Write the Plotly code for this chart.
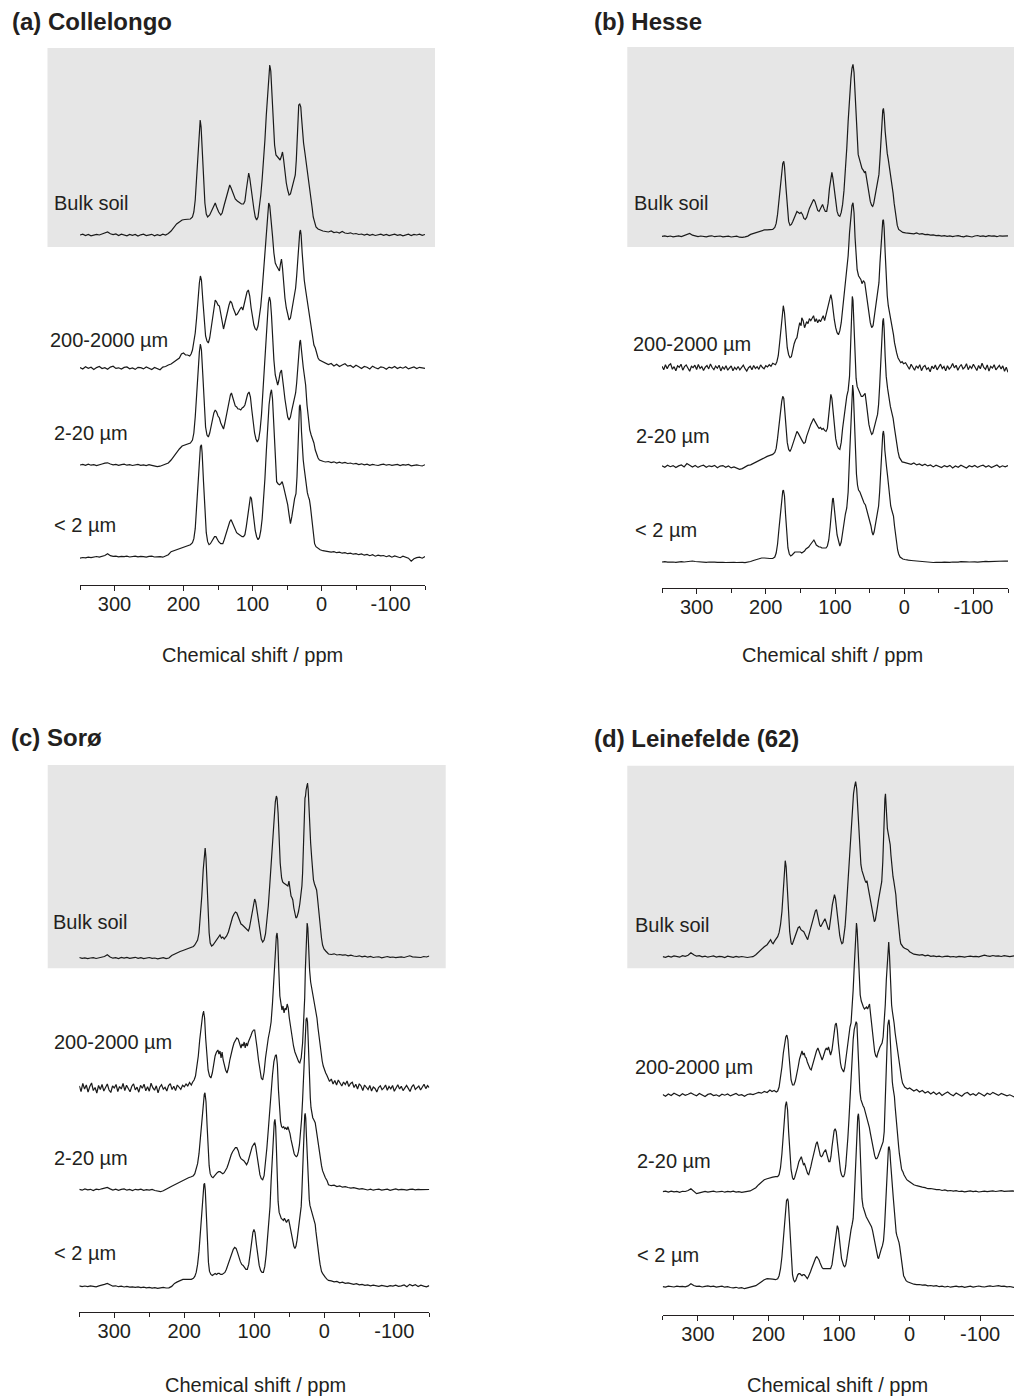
import plotly.graph_objects as go

# ---------------------------------------------------------------------------
# 13C CP-MAS NMR spectra of bulk soils and particle-size fractions.
# Each spectrum = left baseline (sampled every 4 ppm from 350 ppm),
#                 core region as (ppm, intensity) vertices,
#                 right baseline (sampled every 4 ppm from -6 ppm).
# The noisier 200-2000 µm spectra of Hesse and Sorø use a 2.5 ppm baseline grid.
# Intensities are in arbitrary units.
# ---------------------------------------------------------------------------

PANEL_TITLES = ["(a) Collelongo", "(b) Hesse", "(c) Sorø", "(d) Leinefelde (62)"]
FRACTIONS = ["Bulk soil", "200-2000 µm", "2-20 µm", "&lt; 2 µm"]
X_TICKS = [300, 200, 100, 0, -100]
X_TITLE = "Chemical shift / ppm"

# ----------------------------- (a) Collelongo ------------------------------
A_BULK_LEFT = [0.0, 0.8, -0.5, 0.5, -0.8, 0.3, 0.6, 0.0, 1.2, 2.5, 3.0, 1.2, 0.4, 1.0, -0.5, 0.8,
               0.0, -0.8, 0.6, -0.3, 0.5, -1.0, 0.2, 0.8, -0.6, 0.0, 0.7, -0.8, 0.3, -0.5, 0.8, 0.0]
A_BULK_CORE = [(222, 1.5), (218, 4), (214, 8), (210, 11), (206, 13), (202, 15), (198, 15.5), (194, 16),
               (190, 16), (187, 18), (185, 23), (183, 35), (181, 55), (179, 82), (177, 105), (175.8, 115),
               (174.5, 108), (173, 88), (171, 55), (169, 32), (167, 21), (165, 18), (162, 20), (159, 24),
               (156, 29), (154, 32), (152, 28), (149, 23), (146, 20), (144, 22), (141, 30), (138, 38),
               (135, 44), (133, 50), (131, 47), (128, 41), (125, 36), (122, 34), (119, 32), (116, 31),
               (113, 31), (111, 34), (109, 45), (107, 57), (105.5, 62), (104, 57), (101, 40), (98, 26),
               (96, 18), (94, 15), (92, 18), (90, 27), (88, 40), (86, 56), (84, 74), (82, 95), (80, 120),
               (78, 145), (76.5, 163), (75, 170), (73.5, 164), (72, 145), (70, 112), (68, 90), (66, 80),
               (63, 77), (60, 75), (58, 79), (56.5, 83), (55, 76), (53, 63), (51, 52), (49, 45), (47, 40),
               (45, 41), (43, 46), (40, 54), (38, 60), (36.5, 75), (35, 100), (34, 120), (33, 130),
               (31.5, 131), (30, 128), (29, 118), (27.5, 100), (26, 92), (24, 82), (22, 72), (20, 64),
               (18, 54), (16.5, 46), (15, 37), (13.5, 27), (12, 18), (10, 12), (8, 8), (5, 6), (2, 5), (-2, 4)]
A_BULK_RIGHT = [3.5, 3.0, 4.0, 2.5, 3.0, 2.0, 3.5, 2.0, 1.5, 2.2, 1.0, 1.5, 0.5, 1.0, 0.0, 0.8, -0.3,
                0.5, -0.5, 0.3, 0.8, -0.3, 0.5, -0.6, 0.2, 0.8, -0.4, 0.4, -0.8, 0.3, 0.8, -0.5, 0.6,
                0.0, 0.8, -0.3, 0.5]

A_COARSE_LEFT = [0.5, -1.0, 1.2, -0.3, 0.8, -1.5, 0.4, 1.5, -0.6, 0.3, -1.2, 0.9, 1.8, -0.4, 0.2, -1.0,
                 0.6, 1.1, -0.8, 0.0, -1.4, 0.7, 0.3, -0.9, 1.0, -0.2, -1.5, 0.5, -0.7, -1.8, 0.9, 1.5]
A_COARSE_CORE = [(222, 3), (218, 4), (214, 6), (210, 8), (206, 10), (203, 14), (200, 15), (197, 13),
                 (194, 13), (191, 12), (189, 14), (187, 18), (185, 25), (183, 35), (181, 50), (179, 70),
                 (177, 85), (175.5, 92), (174, 88), (172, 68), (170, 46), (168, 32), (166, 27), (164, 25),
                 (162, 30), (160, 40), (158, 52), (156, 62), (154, 68), (152, 66), (150, 63), (148, 62),
                 (146, 55), (144, 45), (142, 39), (140, 45), (138, 52), (136, 58), (134, 63), (132, 67),
                 (130, 65), (128, 60), (126, 56), (124, 53), (122, 54), (120, 57), (118, 59), (116, 61),
                 (114, 58), (112, 64), (110, 70), (108, 76), (106, 78), (104, 72), (102, 60), (100, 50),
                 (98, 43), (96, 39), (94, 38), (92, 42), (90, 50), (88, 62), (86, 78), (84, 98), (82, 118),
                 (80, 140), (78, 158), (76.5, 165), (75, 162), (73, 150), (71, 132), (69, 115), (67, 105),
                 (65, 102), (63, 99), (61, 97), (59.5, 104), (58, 109), (56.5, 100), (55, 85), (53, 70),
                 (51, 60), (49, 53), (47, 48), (45, 50), (43, 58), (41, 66), (39, 73), (37.5, 80), (36, 92),
                 (34.5, 110), (33, 128), (31.5, 136), (30.5, 138), (29.5, 133), (28, 115), (26.5, 96),
                 (25, 88), (23, 78), (21, 68), (19, 61), (17, 50), (15, 38), (13, 29), (11, 23), (9, 20),
                 (7, 14), (5, 10), (3, 8), (0, 7), (-3, 6)]
A_COARSE_RIGHT = [5.0, 3.5, 4.5, 2.0, 3.8, 1.5, 3.0, 4.2, 1.8, 2.5, 0.5, 2.8, 1.2, -0.5, 1.5, 0.8, -1.0,
                  1.8, 0.2, -0.8, 1.2, 0.5, -1.2, 0.9, 0.0, 1.5, -0.6, 0.8, -0.2, 1.2, -0.9, 0.4, 1.0,
                  -0.5, 0.7, 0.2, -0.3]

A_SILT_LEFT = [0.0, 0.6, -0.4, 0.8, -0.2, 0.3, -0.6, 0.5, 1.0, 1.8, 2.2, 1.0, 0.2, 0.6, -0.3, 0.4, 0.8,
               -0.2, 0.3, -0.5, 0.0, 0.6, -0.3, 0.2, -0.6, 0.3, -0.4, -1.0, -1.7, -1.2, -0.3, 0.5]
A_SILT_CORE = [(222, 2), (218, 5), (214, 9), (210, 13), (206, 16), (202, 19), (198, 20), (194, 21),
               (190, 22), (187, 25), (185, 32), (183, 48), (181, 70), (179, 95), (177, 113), (175.5, 121),
               (174, 115), (172, 90), (170, 58), (168, 38), (166, 30), (164, 28), (162, 32), (160, 40),
               (158, 47), (156, 52), (154, 55), (152, 53), (150, 49), (148, 47), (146, 42), (144, 38),
               (142, 36), (140, 42), (138, 50), (136, 58), (134, 65), (132, 70), (130.5, 72), (129, 68),
               (127, 63), (125, 59), (123, 58), (121, 56), (119, 56), (117, 55), (115, 57), (113, 58),
               (111, 60), (109, 66), (107, 71), (105, 73), (103, 68), (101, 55), (99, 42), (97, 32),
               (95, 26), (93, 23), (91, 26), (89, 35), (87, 50), (85, 72), (83, 98), (81, 125), (79, 148),
               (77, 162), (75.5, 168), (74, 164), (72.5, 150), (71, 128), (69, 105), (67, 90), (65, 83),
               (63.5, 80), (62, 84), (60, 92), (58, 95), (56.5, 88), (55, 78), (53, 66), (51, 54),
               (49, 48), (47, 45), (45, 48), (43, 55), (41, 62), (39, 68), (37.5, 72), (36, 82),
               (34.5, 98), (33, 115), (31.5, 123), (30.5, 125), (29.5, 120), (28, 108), (26.5, 98),
               (25, 92), (23, 80), (21, 60), (19, 43), (17, 35), (15, 30), (13, 26), (11, 22), (9, 15),
               (7, 10), (5, 7), (3, 5), (0, 4), (-3, 3.5)]
A_SILT_RIGHT = [3.0, 3.5, 2.5, 3.2, 2.0, 2.8, 1.8, 2.5, 1.5, 2.0, 1.0, 1.6, 0.5, 1.2, 0.2, 0.8, -0.3,
                0.6, 0.0, -0.5, 0.4, 0.8, -0.2, 0.5, -0.4, 0.2, 0.6, -0.6, 0.3, -0.2, 0.5, -0.8, -0.3,
                0.2, -0.5, -1.0, 0.3]

A_CLAY_LEFT = [-1.5, -0.8, -1.2, -0.5, -1.0, -0.3, 0.2, -0.4, 0.5, 1.2, 3.0, 1.0, 0.3, 0.6, -0.2, 0.4,
               0.0, 0.5, -0.3, 0.3, 0.6, -0.2, 0.4, 0.0, -0.4, 0.3, 0.5, -0.3, 0.2, 0.0, -0.5, 0.4]
A_CLAY_CORE = [(222, 2), (218, 5), (214, 6), (210, 7), (206, 8), (202, 9), (198, 10), (194, 11), (190, 12),
               (187, 14), (185, 18), (183, 28), (181, 48), (179, 75), (177, 98), (175.5, 110), (174, 112),
               (173, 104), (171, 75), (169, 45), (167, 24), (165, 15), (163, 12), (161, 13), (159, 15),
               (157, 18), (155, 20), (153, 20), (151, 17), (149, 15), (146, 13), (143, 13), (141, 17),
               (139, 22), (137, 27), (135, 31), (133, 35), (131, 37), (129, 34), (127, 30), (125, 27),
               (123, 24), (121, 23), (119, 22), (117, 21), (115, 20), (113, 20), (111, 22), (109, 30),
               (107, 42), (105, 54), (103, 60), (101.5, 58), (100, 48), (98, 36), (96, 26), (94, 20),
               (92, 17), (90, 19), (88, 26), (86, 38), (84, 55), (82, 78), (80, 105), (78, 132), (76, 152),
               (74, 163), (72.5, 167), (71, 158), (69.5, 135), (68, 105), (66.5, 82), (65, 75), (63, 73),
               (61, 72), (59, 73), (57, 75), (55, 70), (53, 64), (51, 60), (49, 52), (47, 42), (45, 33),
               (43, 40), (41, 50), (39, 58), (37, 63), (35.5, 80), (34, 110), (33, 135), (32, 150),
               (31, 152), (30, 145), (29, 125), (28, 108), (26.5, 97), (25, 88), (23.5, 78), (22, 70),
               (20.5, 64), (19, 60), (17.5, 57), (16, 50), (14.5, 40), (13, 28), (11.5, 18), (10, 13),
               (8, 10), (5, 8), (2, 7), (-2, 6)]
A_CLAY_RIGHT = [5.5, 5.0, 4.5, 5.0, 4.0, 4.5, 3.5, 4.0, 3.0, 3.5, 2.5, 3.0, 2.0, 2.8, 1.5, 2.2, 1.0,
                2.0, 0.5, 1.5, 0.8, 1.2, 0.0, 1.0, -0.5, 0.8, 0.0, -1.0, 0.5, -0.8, -1.5, -4.5, -2.0,
                -1.0, -0.5, -1.5, 0.2]

# -------------------------------- (b) Hesse --------------------------------
B_BULK_LEFT = [0.0, 0.5, -0.3, 0.4, -0.5, 0.2, 0.6, -0.2, 0.8, 1.8, 3.0, 1.2, 0.3, -0.2, 0.4, 0.0,
               -0.4, 0.3, 0.6, -0.3, 0.0, 0.4, -0.5, -0.2, 0.3, -0.6, -0.3, 0.2, -0.8, -1.0, -0.4, 0.3]
B_BULK_CORE = [(222, 2), (218, 3), (214, 4), (210, 5), (206, 6), (202, 6.5), (198, 6.5), (194, 7),
               (190, 7), (187, 9), (185, 13), (183, 22), (181, 36), (179, 52), (177, 66), (175.5, 73),
               (174, 75), (173, 70), (171, 50), (169, 28), (167, 15), (165, 11), (163, 12), (161, 15),
               (159, 18), (157, 22), (155, 25), (153, 24), (151, 23), (149, 24), (147, 22), (145, 18),
               (143, 17), (141, 19), (139, 24), (137, 28), (135, 31), (133, 34), (131, 37), (129, 35),
               (127, 30), (125, 26), (123, 25), (121, 28), (119, 31), (118, 32), (116, 28), (114, 25),
               (112, 25), (110, 33), (108, 48), (106, 60), (104.5, 64), (103, 58), (101, 45), (99, 32),
               (97, 25), (95, 21), (93, 20), (91, 24), (89, 32), (87, 46), (85, 64), (83, 88), (81, 115),
               (79, 140), (77, 158), (75.5, 168), (74, 172), (72.5, 164), (71, 142), (69.5, 115),
               (68, 95), (66.5, 82), (65, 78), (63, 73), (61, 68), (59, 66), (57.5, 64), (56, 65),
               (54.5, 58), (53, 50), (51, 42), (49, 35), (47, 31), (45.5, 30), (44, 33), (42, 40),
               (40, 48), (38, 55), (36.5, 62), (35, 78), (33.5, 100), (32, 118), (31, 126), (30, 128),
               (29, 122), (27.5, 105), (26, 92), (24.5, 83), (23, 77), (21, 68), (19, 60), (17.5, 52),
               (16, 43), (14.5, 33), (13, 25), (11.5, 17), (10, 11), (8, 7), (5, 5), (2, 4), (-2, 3.5)]
B_BULK_RIGHT = [3.0, 3.2, 2.5, 3.5, 2.2, 2.8, 1.8, 2.0, 1.2, 1.5, 0.8, 1.0, 0.2, 0.8, 0.0, 0.5, -0.3,
                0.4, 0.8, 0.0, -0.4, 0.5, 0.2, -0.6, 0.4, 0.9, 0.0, 0.6, -0.2, 0.8, 0.3, 0.5, -0.3,
                0.6, 0.2, 0.4, 0.5]

B_COARSE_LEFT = [1.5, -2.0, 3.0, -1.0, 2.5, 4.0, -1.5, 1.0, -3.0, 2.0, 0.5, 3.5, -2.5, 1.0, 2.8, -0.5,
                 -3.5, 1.5, 0.0, 2.5, -1.8, 3.2, -0.8, 1.2, -2.8, 0.5, 2.2, -1.2, 3.8, 0.2, -2.0, 1.6,
                 -0.6, 2.4, -3.2, 0.8, -1.5, 2.0, -2.5, -0.3, 1.8, -3.0, 0.4, -1.8, 1.2, -2.2, 0.6, 2.6,
                 -1.0, -3.4, 0.0, 1.4, -2.0, 2.2, -0.8, 1.0, -1.6, 2.8, 0.4, -1.2, 2.0, 0.8, 3.0, 1.5, 4.5]
B_COARSE_CORE = [(188, 4), (186, 3), (184, 6), (182, 12), (180, 25), (178, 42), (176, 56), (174.7, 62),
                 (173, 55), (171, 35), (169, 20), (167, 13), (165, 10), (163, 11), (161, 18), (159, 24),
                 (157, 28), (155, 30), (153, 38), (151, 45), (149, 42), (148, 50), (146, 47), (144, 40),
                 (143, 42), (141, 46), (139, 44), (137, 49), (135, 47), (133, 50), (131, 52), (129, 46),
                 (127, 49), (125, 45), (123, 48), (121, 46), (119, 50), (117, 52), (115, 47), (113, 53),
                 (111, 58), (109, 64), (107, 71), (106, 73), (104.5, 68), (103, 58), (101, 48), (99, 40),
                 (97, 35), (95, 33), (93, 37), (91, 45), (89, 58), (87, 70), (85, 80), (83, 92), (81, 112),
                 (79, 135), (77, 152), (75.5, 162), (74, 165), (72.5, 155), (71, 130), (69.5, 108),
                 (68, 98), (66, 92), (64, 90), (62.5, 88), (61, 84), (59, 87), (57, 85), (55, 75),
                 (53, 62), (51, 52), (49, 45), (47, 40), (45, 42), (43, 52), (41, 62), (39.5, 70),
                 (38, 75), (36.5, 85), (35, 105), (33.5, 125), (32, 140), (31, 147), (30, 148), (29, 140),
                 (27.5, 115), (26, 88), (24.5, 72), (23, 62), (21, 55), (19, 48), (17, 40), (15.5, 33),
                 (14, 25), (12.5, 19), (11, 15), (9, 10), (7, 8), (5, 5), (3, 6), (1, 4), (-2, 5)]
B_COARSE_RIGHT = [2.0, -1.5, 3.5, 0.5, -2.5, 1.8, -0.5, 3.0, -3.0, 0.8, 2.2, -1.8, 0.0, -4.0, 1.5, -1.0,
                  2.8, -2.2, 0.5, 3.6, -0.8, 1.2, -3.2, 2.0, -1.4, 0.6, 4.2, -0.2, 2.5, -2.6, 1.0, 3.2,
                  -1.2, 0.4, 4.0, -2.0, 1.6, -0.6, 3.4, 0.8, -2.8, 2.2, -1.0, 4.5, 0.2, -1.6, 2.8, -3.4,
                  1.4, -0.4, 3.0, -2.2, 0.6, 2.4, -1.2, 1.8, -3.6, 0.4, -4.5]

B_SILT_LEFT = [0.5, -0.8, 1.2, -0.3, 0.8, -1.2, 0.5, 1.5, -0.5, 2.8, 1.2, -0.6, 0.9, -1.0, 0.4, 1.2,
               -0.8, 0.6, -0.2, 1.0, -1.3, 0.3, 0.8, -0.9, 0.5, -1.5, -0.6, -2.0, -3.0, -2.2, -0.5, 1.0]
B_SILT_CORE = [(222, 1.5), (218, 3), (214, 4.5), (210, 6), (206, 7.5), (202, 9), (198, 10), (194, 11),
               (190, 12), (187, 14), (185, 18), (183, 28), (181, 42), (179, 55), (177, 65), (175.5, 70),
               (174, 68), (172.5, 55), (171, 38), (169, 24), (167, 17), (165, 15), (163, 18), (161, 22),
               (159, 27), (157, 31), (155, 35), (153, 33), (151, 30), (149, 28), (147, 25), (145, 23),
               (143, 24), (141, 30), (139, 35), (137, 38), (135, 42), (133, 46), (131, 48), (129, 45),
               (127, 42), (125, 40), (123, 38), (121, 39), (119, 37), (117, 38), (115, 36), (113, 35),
               (111, 38), (109, 50), (107, 64), (106, 72), (104.5, 68), (103, 55), (101, 40), (99, 28),
               (97, 21), (95, 18), (93, 17), (91, 24), (89, 38), (87, 50), (85, 62), (83, 70), (81, 76),
               (79, 90), (77.5, 120), (76, 155), (75, 170), (74, 166), (72.5, 140), (71, 110),
               (69.5, 88), (68, 80), (66, 76), (64, 72), (62, 70), (60, 70), (58, 72), (56.5, 73),
               (55, 65), (53, 52), (51, 42), (49, 36), (47, 32), (45.5, 33), (44, 38), (42, 44), (40, 48),
               (38.5, 52), (37, 62), (35.5, 80), (34, 105), (32.5, 130), (31, 145), (30, 148), (29, 138),
               (27.5, 110), (26, 90), (24, 78), (22, 68), (20, 60), (18, 54), (16, 48), (14, 38),
               (12.5, 30), (11, 23), (9, 15), (7, 9), (5, 6), (3, 4.5), (0, 4), (-3, 3.5)]
B_SILT_RIGHT = [3.0, 2.0, 3.5, 1.5, 2.5, 0.8, 2.2, 0.5, 1.5, -0.5, 1.2, 0.0, -1.2, 0.8, -0.5, 1.0, -1.5,
                0.5, -0.8, 1.2, -0.3, -1.6, 0.6, -0.5, 1.0, -1.0, 0.4, 1.2, -0.6, 0.8, -1.2, 0.5, 1.4,
                -0.8, 0.6, -0.4, 0.8]

B_CLAY_LEFT = [0.0, 0.3, -0.2, 0.2, 0.0, -0.3, 0.2, 0.4, 0.0, 0.3, 0.8, 1.0, 0.5, 0.2, -0.2, 0.1, -0.3,
               0.0, 0.2, -0.2, -0.4, 0.0, -0.3, -0.5, -0.2, -0.6, -0.3, -0.5, -0.8, -0.4, -0.6, -0.2]
B_CLAY_CORE = [(222, 0.5), (218, 1.5), (214, 2.5), (210, 3.5), (206, 4), (202, 4), (198, 3.5), (194, 3.5),
               (190, 3.5), (187, 5), (185, 9), (183, 18), (181, 33), (179, 50), (177, 65), (175.5, 71),
               (174.5, 72), (173, 66), (171.5, 48), (170, 28), (168, 14), (166, 8), (164, 6), (162, 7),
               (160, 9), (158, 10), (156, 10), (154, 10), (152, 10), (150, 10), (148, 9), (146, 10),
               (144, 11), (142, 13), (140, 14), (138, 15), (136, 17), (134, 19), (132, 21), (130.5, 22),
               (129, 20), (127, 17), (125, 16), (123, 15), (121, 15), (119, 14), (117, 14), (115, 14),
               (113, 14), (111, 16), (109, 22), (107, 35), (105, 52), (103.5, 63), (102.5, 64), (101, 56),
               (99, 40), (97, 27), (95, 20), (93, 16), (91, 20), (89, 30), (87, 40), (85, 48), (83, 54),
               (81, 70), (79, 105), (77, 145), (75.5, 170), (74.5, 177), (73.5, 170), (72, 140),
               (70.5, 108), (69, 88), (67.5, 77), (66, 72), (64, 70), (62, 66), (60, 62), (58, 59),
               (56, 57), (54, 52), (52, 48), (50, 42), (48, 36), (46.5, 30), (45, 27), (43.5, 30),
               (42, 36), (40, 44), (38, 50), (37, 56), (35.5, 70), (34, 92), (32.5, 115), (31, 128),
               (30, 131), (29, 126), (28, 112), (27, 102), (25.5, 95), (24, 86), (22.5, 75), (21, 62),
               (19.5, 56), (18, 52), (16.5, 48), (15.5, 46), (14, 36), (12.5, 26), (11, 19), (9.5, 12),
               (8, 8), (6, 5), (4, 4), (2, 3), (-1, 2.5), (-3, 2)]
B_CLAY_RIGHT = [1.8, 1.5, 1.2, 0.8, 0.6, 0.3, 0.0, -0.3, -0.2, -0.5, -0.3, -0.6, -0.4, -0.2, -0.5, -0.3,
                0.0, -0.4, -0.2, 0.3, 0.5, 0.2, 0.0, 0.3, 0.1, -0.2, 0.2, 0.4, 0.6, 0.3, 0.5, 0.8, 0.6,
                0.9, 0.7, 1.0, 0.8]

# -------------------------------- (c) Sorø ---------------------------------
C_BULK_LEFT = [0.5, -0.3, 0.2, -0.6, 0.0, 0.4, -0.5, 0.3, 0.8, 1.5, 3.3, 1.0, -0.2, 0.3, -0.5, 0.5, -0.2,
               0.6, -0.4, 0.0, 0.7, -0.3, 0.3, -0.6, 0.2, 0.5, -0.4, 0.0, -0.8, -0.3, 0.4, -0.6]
C_BULK_CORE = [(222, 0), (218, 2.5), (214, 4), (210, 5.5), (206, 6.5), (202, 7.5), (198, 8.5), (194, 9.5),
               (190, 10.5), (187, 11.5), (185, 13), (183, 15), (181, 18), (179, 25), (177, 40), (175, 62),
               (173, 88), (171.5, 105), (170.2, 110), (169, 100), (167.5, 75), (166, 45), (164.5, 25),
               (163, 15), (161, 12), (159, 13), (157, 15), (155, 17), (153, 19), (151, 21), (149, 23),
               (147, 20), (145, 21), (143, 19), (141, 21), (139.5, 22), (137, 26), (135, 32), (133, 37),
               (131, 41), (129, 44), (127, 46), (125, 45), (123, 41), (121, 37), (119, 34), (117, 33),
               (115.5, 32), (114, 31), (112, 29), (110, 28), (108.5, 27), (107, 30), (105, 38), (103, 48),
               (101, 56), (99.5, 59), (98, 56), (96, 46), (94, 34), (92, 24), (90, 19), (88, 16), (86, 18),
               (84, 24), (82, 36), (80, 52), (78, 72), (76, 95), (74, 120), (72, 142), (70, 156),
               (68.5, 162), (67.5, 160), (66, 145), (64.5, 120), (63, 95), (61, 80), (59.5, 76), (58, 75),
               (56.5, 74), (55, 73), (53.5, 73), (52, 72), (50.5, 77), (49, 68), (47.5, 62), (46, 60),
               (45, 58), (43.5, 50), (42, 44), (40.5, 40), (39, 41), (37, 46), (35, 54), (33, 64),
               (32, 72), (31, 85), (29.5, 110), (28.5, 140), (27.6, 160), (26.8, 162), (26, 168),
               (25, 172), (24, 175), (23, 168), (22, 150), (21, 132), (20.5, 128), (19.5, 115), (18, 100),
               (16.5, 85), (15.5, 78), (14, 74), (12.5, 70), (11, 68), (10, 62), (8.5, 50), (7, 38),
               (5.5, 28), (4, 20), (2.5, 13), (0.5, 9), (-2, 7)]
C_BULK_RIGHT = [4.0, 3.5, 4.2, 3.0, 3.5, 2.8, 3.2, 2.2, 2.8, 2.0, 1.5, 2.2, 1.2, 1.8, 0.8, 1.5, 0.5,
                1.0, 1.2, 0.2, 0.8, 1.5, 0.6, 1.0, 0.3, 0.8, 1.2, 0.5, 1.0, 2.2, 1.2, 0.8, 1.0, 0.5,
                1.5, 1.0, 2.0]

C_COARSE_LEFT = [2.0, -3.5, 4.5, -1.0, 3.0, -4.0, 1.5, 5.0, -2.5, 0.5, -5.0, 2.5, -1.5, 3.5, -3.0, 1.0,
                 4.0, -2.0, -4.5, 2.0, 0.0, 3.5, -3.5, 1.5, -1.0, 4.5, -2.5, 2.8, -0.5, -3.8, 1.8, 4.2,
                 -1.8, 0.8, -4.2, 2.6, -0.2, 3.8, -2.8, 1.2, -3.2, 4.8, 0.4, -2.2, 2.2, -4.8, 1.0, 3.2,
                 -1.2, 0.6, -3.0, 2.4, 4.4, -1.6, 1.8, -2.6, 3.0, 0.2, -1.4, 2.8, 1.2, 4.0, 2.0, 5.5, 3.0]
C_COARSE_CORE = [(188, 6), (186, 8), (184, 12), (182, 20), (180, 32), (178, 48), (176, 62), (174, 72),
                 (172.5, 77), (171, 70), (169.5, 50), (168, 32), (166, 18), (164, 12), (162, 10),
                 (160, 15), (158, 24), (156, 32), (154, 36), (152, 38), (150.5, 34), (149, 37),
                 (147.5, 30), (146, 36), (144.5, 28), (143, 22), (141, 18), (139, 15), (137, 20),
                 (135, 28), (133, 35), (131, 40), (129, 45), (127, 47), (125, 50), (123, 49), (121, 44),
                 (119, 40), (117.5, 44), (116, 42), (114.5, 46), (113, 40), (111.5, 45), (110, 42),
                 (108.5, 46), (107, 48), (105, 52), (103, 56), (101, 58), (99.5, 58), (98, 52), (96, 40),
                 (94, 28), (92, 18), (90, 10), (88, 8), (86, 16), (84, 30), (82, 42), (80, 50), (78, 57),
                 (76, 66), (74, 85), (72, 112), (70, 138), (68.5, 152), (67.5, 155), (66.5, 148),
                 (65, 118), (63.5, 92), (62, 85), (60.5, 78), (59, 82), (57.5, 75), (56, 80), (54.5, 78),
                 (53, 84), (51.5, 80), (50, 70), (48.5, 62), (47, 55), (45.5, 48), (44, 42), (42, 36),
                 (40, 32), (38, 28), (36.5, 26), (35, 25), (33, 30), (31, 45), (29.5, 62), (28, 90),
                 (27, 120), (26, 145), (25, 160), (24.5, 165), (23.5, 160), (22.5, 140), (21, 118),
                 (19.5, 106), (18, 100), (16, 92), (14, 86), (12, 80), (10.5, 70), (9, 60), (7.5, 50),
                 (6, 42), (4.5, 34), (3, 27), (1.5, 22), (0, 18), (-2, 15), (-3.5, 13)]
C_COARSE_RIGHT = [10.0, 6.5, 9.0, 4.0, 7.5, 3.0, 8.0, 5.5, 2.0, 6.0, 3.5, 7.0, 1.5, 4.5, 5.8, 0.5, 3.8,
                  -1.0, 4.2, 2.0, -2.5, 3.0, 0.8, -1.5, 2.5, -3.0, 1.0, -0.5, -4.0, 0.5, 2.2, -1.8, 0.0,
                  3.0, -2.2, 1.5, -0.8, 2.5, -3.2, 0.6, 3.2, -1.0, 1.8, -2.6, 0.2, 2.6, -0.4, -3.5, 1.2,
                  3.4, -1.4, 0.8, 2.0, -2.0, 1.6, 3.8, -0.6, 2.4, 0.4]

C_SILT_LEFT = [0.3, -0.5, 0.8, -0.2, 0.4, -0.8, 0.5, 0.0, 0.9, 1.5, 2.2, 0.8, -0.3, 0.5, -0.6, 0.3, 0.8,
               -0.5, 0.2, -0.8, 0.4, -0.2, 0.6, -0.6, 0.0, -0.4, 0.3, -0.8, -1.2, -2.0, -1.0, 0.2]
C_SILT_CORE = [(222, 2), (218, 3.5), (214, 5), (210, 6.5), (206, 8), (202, 9.5), (198, 11), (194, 12),
               (190, 13), (187, 14), (185, 16), (183, 20), (181, 26), (179, 36), (177, 52), (175, 70),
               (173, 86), (171.5, 95), (170.5, 97), (169, 88), (167.5, 65), (166, 40), (164.5, 24),
               (163, 16), (161, 13), (159, 12), (157, 14), (155, 16), (153, 17), (151, 18), (149, 18),
               (147, 17), (145, 16), (143, 17), (141, 19), (139, 22), (137, 26), (135, 31), (133, 35),
               (131, 38), (129, 40), (127, 42), (125, 42), (123, 39), (121, 34), (119, 31), (117, 30),
               (115, 29), (113, 27), (111, 25), (109, 28), (107, 32), (105, 38), (103, 43), (101, 46),
               (99.5, 47), (98, 43), (96, 32), (94, 22), (92, 15), (90, 11), (88, 10), (86, 14), (84, 26),
               (82, 42), (80, 60), (78, 80), (76, 98), (74, 115), (72, 128), (70, 134), (68.5, 135),
               (67, 125), (65.5, 100), (64, 80), (62.5, 68), (61, 63), (59.5, 62), (58, 63), (56.5, 61),
               (55, 62), (53.5, 60), (52, 63), (50.5, 60), (49, 56), (47.5, 50), (46, 45), (44.5, 40),
               (43, 36), (41.5, 34), (40, 33), (38.5, 34), (37, 38), (35.5, 45), (34, 55), (32.5, 70),
               (31, 90), (30, 110), (29, 130), (28, 150), (27, 163), (26, 170), (25, 172), (24, 168),
               (23, 150), (22, 125), (21, 105), (20, 92), (19, 82), (18, 75), (16.5, 72), (15, 70),
               (13, 67), (11.5, 60), (10, 52), (8.5, 45), (7, 40), (5.5, 32), (4, 24), (2.5, 19),
               (1, 16), (-1.5, 12), (-4, 9)]
C_SILT_RIGHT = [5.0, 4.0, 4.5, 3.2, 3.8, 2.5, 3.0, 2.2, 1.5, 2.0, 1.2, 0.5, 1.0, 0.2, -0.3, 0.5, -0.5,
                0.2, 0.6, -0.4, 0.0, 0.5, -0.6, 0.3, 0.8, -0.2, 0.4, 0.0, -0.5, 0.3, 0.6, -0.2, 0.4,
                0.0, 0.3, 0.6, 0.2]

C_CLAY_LEFT = [0.5, -0.3, 0.4, -0.2, 0.6, 0.0, -0.4, 0.5, 1.0, 2.0, 3.0, 1.5, 0.2, 0.6, -0.3, 0.2, -0.6,
               0.0, -0.8, -0.4, -1.0, -0.5, -1.2, -0.8, -1.5, -1.0, -1.8, -1.2, -2.0, -1.5, -1.0, -1.6]
C_CLAY_CORE = [(222, -1.5), (218, 0), (214, 3), (210, 4.5), (206, 6), (202, 7), (198, 7), (194, 7),
               (190, 7), (187, 8), (185, 10), (183, 14), (181, 22), (179, 35), (177, 55), (175, 78),
               (173.5, 95), (172, 102), (171, 103), (170, 96), (168.5, 72), (167, 44), (165.5, 24),
               (164, 15), (162, 12), (160, 11), (158, 12), (156, 13), (154, 12), (152, 13), (150, 13),
               (148, 12), (146, 12), (144, 13), (142, 14), (140, 17), (138, 21), (136, 26), (134, 30),
               (132, 34), (130, 37), (128, 39), (126, 38), (124, 34), (122, 29), (120, 25), (118, 22),
               (116, 21), (114, 19), (112, 17), (110, 17), (108, 22), (106, 32), (104, 45), (102, 54),
               (100.5, 57), (99, 54), (97, 42), (95, 30), (93, 21), (91, 16), (89, 14), (87, 14),
               (85, 20), (83, 32), (81, 48), (79, 63), (77.5, 80), (76, 105), (74.5, 130), (73, 152),
               (71.5, 164), (70.5, 167), (69.5, 160), (68.5, 140), (67.5, 110), (66, 85), (64.5, 74),
               (63, 70), (61.5, 68), (60, 67), (58.5, 66), (57, 68), (55.5, 65), (54, 64), (52.5, 66),
               (51, 67), (49.5, 62), (48, 57), (46.5, 50), (45, 44), (43.5, 40), (42, 38), (40.5, 40),
               (39, 46), (37.5, 55), (36, 64), (34.5, 72), (33, 80), (32, 95), (31, 120), (30, 145),
               (29, 163), (28, 171), (27.3, 173), (26.5, 168), (25.5, 150), (24.5, 130), (23.5, 112),
               (22.5, 97), (21.5, 87), (20.5, 81), (19, 77), (18, 75), (17, 73), (16, 71), (15, 69),
               (14, 66), (13, 62), (12, 55), (11, 48), (10, 42), (9, 38), (8, 33), (7, 27), (6, 22),
               (5, 17), (4, 15), (2.5, 13), (1, 11), (-1.5, 9), (-4, 7)]
C_CLAY_RIGHT = [6.0, 5.5, 4.5, 5.0, 3.5, 4.2, 3.0, 3.5, 2.5, 2.0, 2.8, 1.5, 2.0, 1.0, 1.5, 0.5, 1.2,
                0.8, 0.0, 1.0, 0.5, -0.2, 0.8, 0.3, 1.2, 0.0, 0.6, 1.5, -0.3, 2.0, 0.5, 1.8, -0.2, 1.2,
                0.3, -0.5, 0.8]

# --------------------------- (d) Leinefelde (62) ---------------------------
D_BULK_LEFT = [0.0, -0.6, 0.5, -0.3, 0.8, 0.2, -0.5, 1.0, 0.3, 1.5, 4.0, 2.0, 0.5, 1.0, -0.2, 0.6,
               -0.5, 0.2, 0.8, -0.3, 0.4, 0.0, -0.8, 0.5, -0.2, -0.6, 0.3, -0.4, 0.2, -0.5, -0.8, -0.3]
D_BULK_CORE = [(222, 0), (218, 2), (214, 5), (210, 8), (206, 10), (202, 12), (199, 15), (197, 17),
               (195, 14), (193.5, 13), (191, 16), (189, 18), (187, 20), (185, 24), (183, 32), (181, 45),
               (179, 65), (177.5, 85), (176.3, 96), (175, 90), (173.5, 70), (172, 45), (170, 25),
               (168, 14), (166.5, 12), (164.5, 16), (162, 22), (160, 26), (158, 29), (156, 30),
               (154, 27), (152, 26), (150, 25), (148, 22), (146, 18), (144.5, 17), (143, 21), (141, 27),
               (139, 33), (137, 38), (135, 42), (133.5, 46), (132, 47), (130.5, 42), (129, 36),
               (127.5, 32), (126, 30), (124.5, 32), (123, 34), (121.5, 36), (120, 38), (118.5, 35),
               (117, 31), (115.5, 28), (114, 27), (112.5, 33), (111, 43), (109.5, 52), (108, 59),
               (106.5, 62), (105, 58), (103.5, 48), (102, 38), (100.5, 28), (99, 21), (97.5, 16),
               (96, 13), (94.5, 14), (93, 20), (91.5, 30), (90, 45), (88.5, 62), (87, 80), (85.5, 100),
               (84, 120), (82.5, 138), (81, 152), (79.5, 163), (78, 170), (76.5, 175), (75, 168),
               (73.5, 150), (72, 122), (70.5, 102), (69, 92), (67.5, 86), (66, 82), (64.5, 78),
               (63, 76), (61.5, 74), (60.5, 76), (59, 70), (57.5, 64), (56, 58), (54.5, 50), (53, 44),
               (51.5, 38), (50, 35), (48.5, 37), (47, 42), (45.5, 50), (44, 57), (42.5, 63), (41, 68),
               (39.5, 75), (38, 95), (37, 120), (36, 145), (35, 158), (34.2, 163), (33.3, 150),
               (32.5, 136), (31.5, 128), (30.5, 124), (29.5, 121), (28.5, 118), (27.5, 112),
               (26.5, 102), (25.5, 92), (24.5, 85), (23.5, 80), (22.5, 76), (21.5, 72), (20.5, 68),
               (19.5, 62), (18.5, 52), (17.5, 44), (16.5, 36), (15.5, 29), (14.5, 22), (13.5, 17),
               (12.5, 13), (11, 11), (9, 9.5), (7, 8.5), (5, 8), (2.5, 7), (0, 5), (-3, 3.5)]
D_BULK_RIGHT = [2.5, 2.0, 1.5, 2.0, 0.8, 1.5, 0.3, 0.8, 0.0, 0.5, -0.3, 0.4, 0.6, -0.2, 0.2, -0.5, 0.3,
                0.0, -0.4, 0.2, 0.6, 0.0, 0.3, -0.2, 0.5, 1.5, 0.8, 0.3, 1.2, 0.5, 0.8, 0.2, 1.0, 0.4,
                0.0, 0.6, 1.0]

D_COARSE_LEFT = [0.5, -1.2, 1.0, -0.5, 1.8, 0.2, -1.0, 1.2, -0.3, 0.8, 2.0, 0.5, -0.8, 1.5, 0.0, -1.5,
                 0.6, 1.3, -0.6, 0.2, -1.2, 0.8, -0.2, 1.0, -0.9, 0.4, 1.6, -0.4, 0.3, -1.3, 0.5, 1.2]
D_COARSE_CORE = [(222, 0.5), (218, 1.5), (214, 2.5), (210, 1.8), (206, 3.5), (202, 2.5), (198, 5),
                 (195, 3.5), (192, 4.5), (189, 3), (187, 4), (185, 8), (183, 16), (181, 28), (179, 42),
                 (177, 52), (175.5, 58), (174, 60), (172.5, 55), (171, 40), (169.5, 25), (168, 15),
                 (166, 10), (164, 10), (162, 14), (160, 20), (158, 28), (156, 36), (154, 42),
                 (152.5, 44), (151, 40), (149.5, 42), (148, 38), (146.5, 37), (145, 33), (143, 29),
                 (141, 26), (139.5, 25), (138, 29), (136, 35), (134, 40), (132, 44), (130, 47),
                 (128.5, 44), (127, 40), (125.5, 36), (124, 35), (122.5, 38), (121, 42), (119.5, 45),
                 (118, 47), (116.5, 45), (115, 48), (113.5, 42), (112, 40), (110, 45), (108.5, 55),
                 (107, 64), (105.5, 70), (104, 72), (102.5, 65), (101, 52), (99.5, 40), (98, 32),
                 (96.5, 27), (95, 24), (93.5, 23), (92, 27), (90.5, 36), (89, 46), (87.5, 55), (86, 63),
                 (84.5, 68), (83, 72), (81.5, 85), (80, 105), (78.5, 128), (77, 152), (76, 166),
                 (75.3, 172), (74.3, 165), (73, 140), (71.5, 115), (70, 100), (68.5, 94), (67, 90),
                 (65.5, 88), (64, 86), (62.5, 87), (61, 88), (59.5, 86), (58, 90), (56.8, 91),
                 (55.5, 82), (54, 72), (52.5, 60), (51, 50), (49.5, 43), (48, 39), (46.5, 38), (45, 42),
                 (43.5, 46), (42, 48), (40.5, 50), (39, 52), (37.5, 58), (36, 70), (34.5, 90), (33, 115),
                 (31.5, 138), (30.3, 150), (29.6, 153), (28.5, 140), (27.5, 118), (26.5, 100),
                 (25.5, 90), (24.5, 84), (23.5, 80), (22, 72), (20.5, 62), (19, 54), (17.5, 47),
                 (16, 40), (14.5, 32), (13, 24), (11.5, 17), (10, 12), (8.5, 9), (7, 8), (5, 7), (3, 6),
                 (0, 7), (-3, 5.5)]
D_COARSE_RIGHT = [4.0, 5.5, 3.0, 4.5, 2.0, 3.5, 1.0, 3.0, 0.5, 2.5, -0.5, 1.5, 3.0, 0.8, -0.8, 2.0, 0.5,
                  -1.2, 1.5, 2.5, 0.0, 1.2, -0.6, 2.2, 0.8, -1.0, 1.8, 0.4, 2.6, 1.0, -0.4, 1.6, 0.6,
                  -0.8, 0.2, -1.5, -2.5]

D_SILT_LEFT = [0.0, 0.5, -0.4, 0.6, -0.2, 0.3, -0.6, 0.4, 0.2, 1.2, 3.0, 0.5, -2.0, -1.2, -0.3, 0.3,
               -0.5, 0.2, 0.6, -0.3, 0.0, 0.4, -0.5, 0.3, -0.2, 0.5, -0.4, 0.1, -0.6, 0.2, 0.4, 0.8]
D_SILT_CORE = [(222, 2), (218, 4), (214, 7), (210, 10), (206, 12), (202, 13), (198, 14), (194, 14.5),
               (190, 15), (187, 15), (185, 17), (183, 24), (181, 38), (179, 58), (177.5, 76), (176, 86),
               (174.6, 90), (173, 82), (171.5, 60), (170, 38), (168, 22), (166, 14), (164.5, 12),
               (163, 14), (161, 18), (159, 24), (157, 30), (155, 34), (153.5, 35), (152, 31),
               (150.5, 27), (149, 28), (147.5, 24), (146, 20), (144.5, 18), (143, 17), (141.5, 20),
               (140, 25), (138.5, 30), (137, 35), (135.5, 40), (134, 44), (132.5, 48), (131, 50),
               (129.5, 46), (128, 40), (126.5, 36), (125, 35), (123.5, 36), (122, 39), (120.5, 40),
               (119, 42), (117.5, 38), (116, 33), (114.5, 30), (113, 30), (111.5, 35), (110, 45),
               (108.5, 55), (107, 61), (105.5, 63), (104, 60), (102.5, 50), (101, 38), (99.5, 28),
               (98, 21), (96.5, 17), (95, 15), (93.5, 15), (92, 18), (90.5, 26), (89, 38), (87.5, 54),
               (86, 72), (84.5, 95), (83, 118), (81.5, 138), (80, 152), (78.5, 162), (77, 168),
               (75.8, 170), (74.7, 168), (73.5, 150), (72, 120), (70.5, 100), (69, 92), (67.5, 88),
               (66, 86), (64.5, 84), (63, 80), (61.5, 76), (60, 74), (58.5, 70), (57, 64), (55.5, 58),
               (54, 52), (52.5, 46), (51, 40), (49.5, 36), (48, 33), (46.5, 33), (45, 35), (43.5, 38),
               (42, 41), (40.5, 44), (39, 47), (37.5, 50), (36, 60), (35, 80), (34, 110), (33, 135),
               (32, 155), (31, 166), (30, 170), (29.2, 172), (28.3, 165), (27.5, 150), (26.5, 130),
               (25.5, 118), (24.5, 110), (23.5, 104), (22.5, 100), (21.5, 95), (20.5, 85), (19.5, 75),
               (18.5, 66), (17.5, 59), (16.5, 52), (15.5, 45), (14.5, 38), (13.5, 31), (12.5, 26),
               (11.5, 23), (10.5, 21), (9.5, 20), (8, 17), (6, 14), (4, 12), (2, 11), (0, 10), (-3, 8)]
D_SILT_RIGHT = [7.0, 6.0, 5.0, 4.5, 4.0, 3.0, 3.2, 2.5, 2.0, 2.2, 1.2, 1.8, 0.8, 1.2, 0.5, 1.0, 0.2,
                0.6, -0.2, 0.4, 0.8, 0.0, 0.5, -0.3, 0.3, 0.6, 0.0, 0.4, 0.8, 0.2, 0.5, 1.0, 0.3, 0.6,
                0.2, 0.8, 0.5]

D_CLAY_LEFT = [0.0, -0.4, 0.5, 0.2, -0.3, 0.6, 0.0, 0.4, -0.2, 0.8, 3.0, 1.2, 0.3, 0.6, -0.3, 0.4, 0.8,
               0.0, 0.5, -0.4, 0.2, 0.6, -0.5, 0.0, -0.8, -1.2, -0.6, -1.5, -1.0, -2.0, -1.2, -0.5]
D_CLAY_CORE = [(222, 0.5), (218, 1), (214, 3), (210, 5), (206, 7), (202, 8), (198, 8), (194, 7.5),
               (190, 7), (187, 8), (185, 11), (183, 18), (181, 30), (179, 48), (177.5, 65), (176, 78),
               (174.5, 86), (173, 88), (172, 85), (170.5, 68), (169, 45), (167.5, 25), (166, 12),
               (164.5, 7), (163, 5), (161.5, 6), (160, 10), (158.5, 12), (157, 13), (155.5, 13),
               (154, 12), (152.5, 11), (151, 12), (149.5, 12), (148, 11), (146.5, 10), (145, 8),
               (143.5, 10), (142, 12), (140.5, 15), (139, 18), (137.5, 21), (136, 24), (134.5, 27),
               (133, 29), (131.5, 30), (130, 29), (128.5, 27), (127, 24), (125.5, 21), (124, 19),
               (122.5, 18), (121, 18), (119.5, 18), (118, 18), (116, 18), (114, 18), (112, 18),
               (110, 22), (108, 32), (106, 46), (104, 57), (102.5, 61), (101, 58), (99.5, 50), (98, 38),
               (96.5, 28), (95, 23), (93.5, 21), (92, 20), (90.5, 22), (89, 28), (87.5, 36), (86, 44),
               (84.5, 52), (83, 57), (81.5, 62), (80, 68), (78.5, 88), (77, 115), (75.5, 142),
               (74.5, 160), (73.5, 170), (72.5, 173), (71.5, 165), (70.5, 145), (69.5, 120),
               (68.5, 100), (67.5, 88), (66, 80), (64.5, 76), (63, 73), (61.5, 70), (60, 68),
               (58.5, 66), (57, 64), (55.5, 62), (54, 60), (52.5, 56), (51, 50), (49.5, 45), (48, 38),
               (46.5, 33), (45, 29), (44, 28), (43, 31), (41.5, 36), (40, 38), (38.5, 41), (37, 46),
               (35.5, 60), (34, 80), (33, 100), (32, 120), (31, 134), (30, 139), (29, 140), (28, 136),
               (27, 125), (26, 112), (25, 103), (24, 97), (23, 88), (22, 78), (21, 68), (20, 60),
               (19, 54), (18, 51), (17, 49), (16, 46), (15, 44), (14, 40), (13, 35), (12, 30),
               (11, 22), (10, 16), (8.5, 11), (7, 9), (5, 6), (3, 5), (0, 4), (-3, 3)]
D_CLAY_RIGHT = [2.5, 2.0, 2.2, 1.5, 1.8, 0.8, 1.2, 0.5, 1.0, 0.0, 0.6, -0.3, 0.4, -0.5, 0.2, 0.6, -0.2,
                0.3, -0.6, 0.0, 0.5, -0.4, 0.2, 0.7, 0.0, -0.3, 0.4, 0.8, 0.2, 0.6, 1.0, 0.3, 0.5, -0.2,
                0.2, -0.5, -0.8]

# ---------------------------------------------------------------------------
# Figure geometry (pixels) and styling
# ---------------------------------------------------------------------------
W, H = 1014, 1396
INK = "#231f20"
LINE = "#1a1a1a"
SHADE = "#e6e6e6"
FONT = "Liberation Sans, Arial, Helvetica, sans-serif"

# grid spacing (ppm) of the sampled baselines: (left step, right start, right step)
GRID_STD = (4.0, -6.0, 4.0)
GRID_FINE = (2.5, -5.0, 2.5)

PANELS = [
    dict(title=PANEL_TITLES[0], title_xy=(10, 22), x0=80, x1=425, xr=(350, -150), axis_y=585, top=40,
         shade=(47.5, 435, 48, 247), xlabel_xy=(252, 655),
         spectra=[(A_BULK_LEFT, A_BULK_CORE, A_BULK_RIGHT, GRID_STD, 350.0),
                  (A_COARSE_LEFT, A_COARSE_CORE, A_COARSE_RIGHT, GRID_STD, 217.0),
                  (A_SILT_LEFT, A_SILT_CORE, A_SILT_RIGHT, GRID_STD, 120.0),
                  (A_CLAY_LEFT, A_CLAY_CORE, A_CLAY_RIGHT, GRID_STD, 28.3)],
         labels=[(52, 203), (48, 340), (52, 433), (52, 525)]),
    dict(title=PANEL_TITLES[1], title_xy=(592, 22), x0=662, x1=1008, xr=(350, -150), axis_y=588, top=40,
         shade=(627.3, 1014, 47, 247), xlabel_xy=(832, 655),
         spectra=[(B_BULK_LEFT, B_BULK_CORE, B_BULK_RIGHT, GRID_STD, 351.6),
                  (B_COARSE_LEFT, B_COARSE_CORE, B_COARSE_RIGHT, GRID_FINE, 220.3),
                  (B_SILT_LEFT, B_SILT_CORE, B_SILT_RIGHT, GRID_STD, 121.6),
                  (B_CLAY_LEFT, B_CLAY_CORE, B_CLAY_RIGHT, GRID_STD, 26.0)],
         labels=[(632, 203), (631, 344), (634, 436), (633, 530)]),
    dict(title=PANEL_TITLES[2], title_xy=(9, 737), x0=79.3, x1=429.3, xr=(350, -150), axis_y=1312, top=760,
         shade=(47.7, 445.7, 765, 968.3), xlabel_xy=(255, 1385),
         spectra=[(C_BULK_LEFT, C_BULK_CORE, C_BULK_RIGHT, GRID_STD, 354.0),
                  (C_COARSE_LEFT, C_COARSE_CORE, C_COARSE_RIGHT, GRID_FINE, 224.0),
                  (C_SILT_LEFT, C_SILT_CORE, C_SILT_RIGHT, GRID_STD, 122.3),
                  (C_CLAY_LEFT, C_CLAY_CORE, C_CLAY_RIGHT, GRID_STD, 25.6)],
         labels=[(51, 922), (52, 1042), (52, 1158), (52, 1253)]),
    dict(title=PANEL_TITLES[3], title_xy=(592, 738), x0=662.7, x1=1014, xr=(350, -148), axis_y=1315, top=760,
         shade=(627.3, 1014, 765.7, 968.3), xlabel_xy=(837, 1385),
         spectra=[(D_BULK_LEFT, D_BULK_CORE, D_BULK_RIGHT, GRID_STD, 358.3),
                  (D_COARSE_LEFT, D_COARSE_CORE, D_COARSE_RIGHT, GRID_STD, 220.0),
                  (D_SILT_LEFT, D_SILT_CORE, D_SILT_RIGHT, GRID_STD, 123.3),
                  (D_CLAY_LEFT, D_CLAY_CORE, D_CLAY_RIGHT, GRID_STD, 28.3)],
         labels=[(633, 925), (633, 1067), (635, 1161), (635, 1255)]),
]


def px_x(px):
    return px / W


def px_y(px):
    return 1 - px / H


def assemble(left, core, right, grid):
    """Join the sampled baselines and the core vertices into one ppm/intensity series."""
    step_l, start_r, step_r = grid
    xs = [350.0 - i * step_l for i in range(len(left))]
    ys = list(left)
    xs += [p for p, _ in core]
    ys += [v for _, v in core]
    xs += [start_r - i * step_r for i in range(len(right))]
    ys += list(right)
    return xs, ys


fig = go.Figure()
shapes, annotations = [], []
layout_axes = {}

for k, panel in enumerate(PANELS, start=1):
    xa = "x" if k == 1 else f"x{k}"
    ya = "y" if k == 1 else f"y{k}"
    for left, core, right, grid, offset in panel["spectra"]:
        xs, ys = assemble(left, core, right, grid)
        fig.add_trace(go.Scatter(
            x=xs, y=[v + offset for v in ys], mode="lines",
            line=dict(color=LINE, width=1.2),
            xaxis=xa, yaxis=ya, hoverinfo="skip", showlegend=False))

    height = panel["axis_y"] - panel["top"]
    layout_axes["xaxis" if k == 1 else f"xaxis{k}"] = dict(
        domain=[px_x(panel["x0"]), px_x(panel["x1"])],
        range=list(panel["xr"]), anchor=ya,
        showline=True, linecolor=INK, linewidth=1,
        showgrid=False, zeroline=False,
        tickmode="array", tickvals=X_TICKS, ticktext=[str(t) for t in X_TICKS],
        ticks="outside", ticklen=5, tickwidth=1, tickcolor=INK,
        ticklabelstandoff=-4,
        tickfont=dict(family=FONT, size=20, color=INK),
        minor=dict(tickmode="linear", tick0=0, dtick=50, ticks="outside", ticklen=4,
                   tickwidth=1, tickcolor=INK, showgrid=False),
        fixedrange=True,
    )
    layout_axes["yaxis" if k == 1 else f"yaxis{k}"] = dict(
        domain=[px_y(panel["axis_y"]), px_y(panel["top"])],
        range=[0, height], anchor=xa, visible=False, fixedrange=True,
    )

    sx0, sx1, sy0, sy1 = panel["shade"]
    shapes.append(dict(type="rect", xref="paper", yref="paper", layer="below",
                       x0=px_x(sx0), x1=px_x(sx1), y0=px_y(sy1), y1=px_y(sy0),
                       fillcolor=SHADE, line=dict(width=0)))

    tx, ty = panel["title_xy"]
    annotations.append(dict(text=f"<b>{panel['title']}</b>", xref="paper", yref="paper",
                            x=px_x(tx), y=px_y(ty), xanchor="left", yanchor="middle",
                            showarrow=False, font=dict(family=FONT, size=24, color=INK)))

    for name, (lx, ly) in zip(FRACTIONS, panel["labels"]):
        annotations.append(dict(text=name, xref="paper", yref="paper",
                                x=px_x(lx), y=px_y(ly), xanchor="left", yanchor="middle",
                                showarrow=False, font=dict(family=FONT, size=20, color=INK)))

    cx, cy = panel["xlabel_xy"]
    annotations.append(dict(text=X_TITLE, xref="paper", yref="paper",
                            x=px_x(cx), y=px_y(cy), xanchor="center", yanchor="middle",
                            showarrow=False, font=dict(family=FONT, size=20, color=INK)))

fig.update_layout(
    width=W, height=H,
    margin=dict(l=0, r=0, t=0, b=0),
    paper_bgcolor="white", plot_bgcolor="rgba(0,0,0,0)",
    font=dict(family=FONT, color=INK),
    shapes=shapes, annotations=annotations,
    **layout_axes,
)

fig.write_html("out.html")
